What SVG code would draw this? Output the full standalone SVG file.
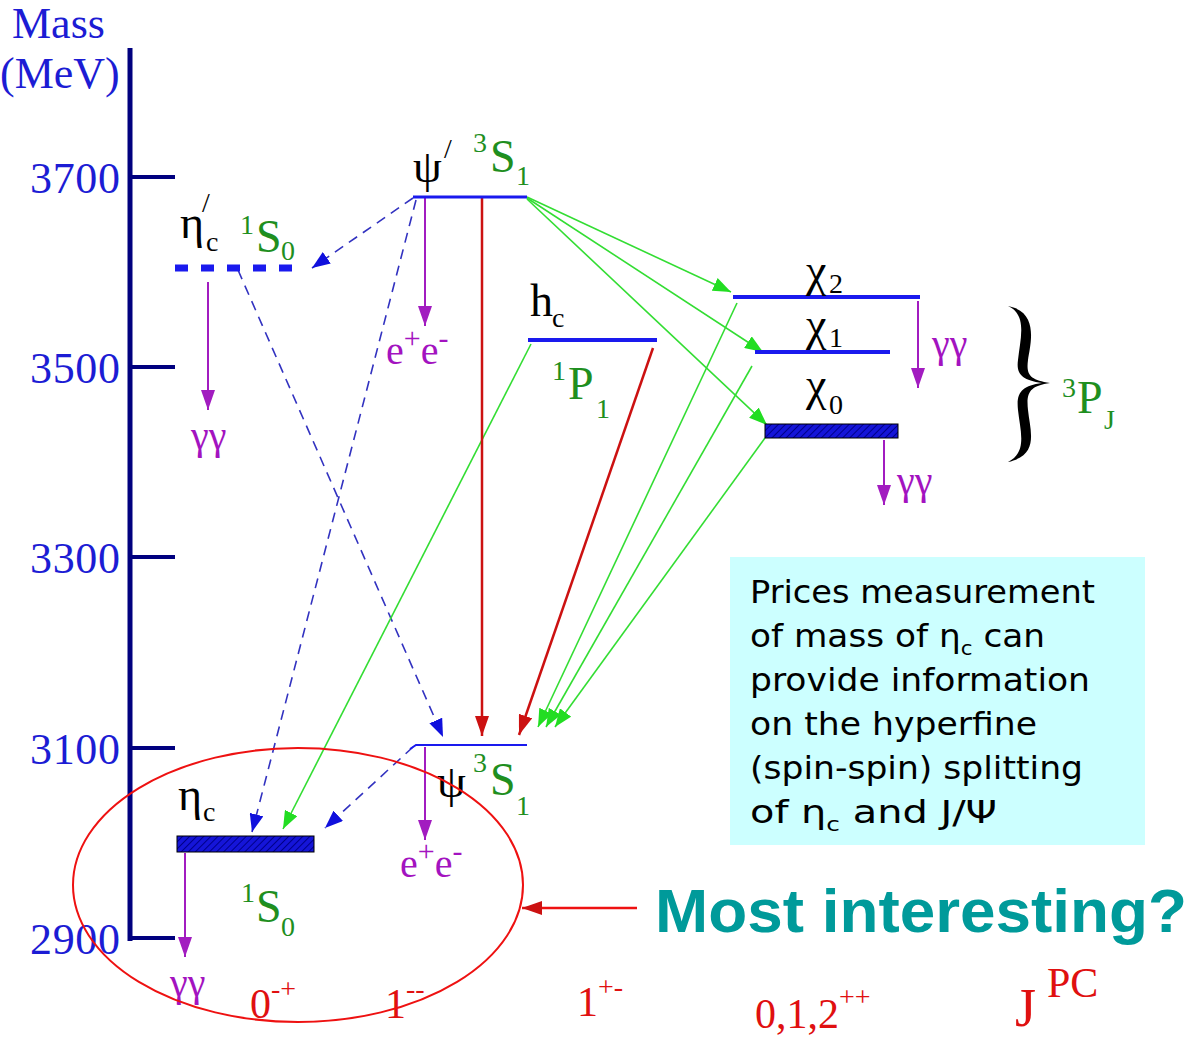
<svg xmlns="http://www.w3.org/2000/svg" width="1197" height="1037" viewBox="0 0 1197 1037">
<defs>
<style>
.ax{font-family:"Liberation Serif",serif;font-size:44px;fill:#1c1cd4}
.lbl{font-family:"Liberation Serif",serif;font-size:46px;fill:#000}
.grn{font-family:"Liberation Serif",serif;font-size:46px;fill:#1f8f1f}
.pur{font-family:"Liberation Serif",serif;font-size:40px;fill:#a313c0}
.jpc{font-family:"Liberation Serif",serif;font-size:42px;fill:#e01010}
.note{font-family:"DejaVu Sans",sans-serif;font-size:32px;fill:#000}
.s{font-size:28px}
.lvl{stroke:#1a1aee;stroke-width:4;fill:none}
.dash{stroke:#3232c0;stroke-width:1.6;stroke-dasharray:10 7;fill:none}
.g{stroke:#33dd33;stroke-width:1.6;fill:none}
.r{stroke:#cc1111;stroke-width:2.5;fill:none}
.p{stroke:#a21cc0;stroke-width:2;fill:none}
</style>
<pattern id="hatch" patternUnits="userSpaceOnUse" width="5" height="5" patternTransform="rotate(45)">
<rect width="5" height="5" fill="#1515d8"/>
<line x1="0" y1="0" x2="0" y2="5" stroke="#00008a" stroke-width="2"/>
</pattern>
<marker id="ab" markerUnits="userSpaceOnUse" markerWidth="20" markerHeight="14" refX="18" refY="7" orient="auto"><path d="M0,0 L18,7 L0,14 Z" fill="#1010dd"/></marker>
<marker id="ag" markerUnits="userSpaceOnUse" markerWidth="20" markerHeight="14" refX="18" refY="7" orient="auto"><path d="M0,0 L18,7 L0,14 Z" fill="#22dd22"/></marker>
<marker id="ar" markerUnits="userSpaceOnUse" markerWidth="22" markerHeight="14" refX="20" refY="7" orient="auto"><path d="M0,0 L20,7 L0,14 Z" fill="#cc1111"/></marker>
<marker id="ap" markerUnits="userSpaceOnUse" markerWidth="22" markerHeight="14" refX="20" refY="7" orient="auto"><path d="M0,0 L20,7 L0,14 Z" fill="#a21cc0"/></marker>
</defs>
<rect width="1197" height="1037" fill="#fff"/>

<g id="axis">
<line x1="130" y1="48" x2="130" y2="941" stroke="#00007f" stroke-width="5"/>
<g stroke="#00007f" stroke-width="4">
<line x1="130" y1="177" x2="175" y2="177"/>
<line x1="130" y1="367" x2="175" y2="367"/>
<line x1="130" y1="557" x2="175" y2="557"/>
<line x1="130" y1="748" x2="175" y2="748"/>
<line x1="130" y1="938" x2="175" y2="938"/>
</g>
<text class="ax" x="12" y="38">Mass</text>
<text class="ax" x="0" y="88">(MeV)</text>
<text class="ax" x="30" y="193" textLength="90">3700</text>
<text class="ax" x="30" y="383" textLength="90">3500</text>
<text class="ax" x="30" y="573" textLength="90">3300</text>
<text class="ax" x="30" y="764" textLength="90">3100</text>
<text class="ax" x="30" y="954" textLength="90">2900</text>
</g>

<g id="connectors">
<path class="dash" d="M413,198 L312,268" marker-end="url(#ab)"/>
<path class="dash" d="M416,200 L252,832" marker-end="url(#ab)"/>
<path class="dash" d="M238,270 L443,737" marker-end="url(#ab)"/>
<path class="dash" d="M413,747 L325,828" marker-end="url(#ab)"/>
<path class="g" d="M527,197 L731,292" marker-end="url(#ag)"/>
<path class="g" d="M527,198 L763,352" marker-end="url(#ag)"/>
<path class="g" d="M527,199 L767,425" marker-end="url(#ag)"/>
<path class="g" d="M531,344 L283,829" marker-end="url(#ag)"/>
<path class="g" d="M737,303 L538,727" marker-end="url(#ag)"/>
<path class="g" d="M752,366 L546,727" marker-end="url(#ag)"/>
<path class="g" d="M765,438 L555,727" marker-end="url(#ag)"/>
<path class="r" d="M482,198 L482,736" marker-end="url(#ar)"/>
<path class="r" d="M653,348 L519,735" marker-end="url(#ar)"/>
<path class="p" d="M208,282 L208,410" marker-end="url(#ap)"/>
<path class="p" d="M425,198 L425,326" marker-end="url(#ap)"/>
<path class="p" d="M918,301 L918,388" marker-end="url(#ap)"/>
<path class="p" d="M884,440 L884,505" marker-end="url(#ap)"/>
<path class="p" d="M425,747 L425,840" marker-end="url(#ap)"/>
<path class="p" d="M185,853 L185,957" marker-end="url(#ap)"/>
<path d="M637,908 L522,908" stroke="#ee1111" stroke-width="2.5" fill="none" marker-end="url(#ar)"/>
</g>

<g id="eta_c_prime">
<line x1="175" y1="268" x2="300" y2="268" stroke="#1a1aee" stroke-width="7" stroke-dasharray="13 13"/>
<text class="lbl" x="180" y="238">η</text>
<text class="lbl s" x="202" y="212">/</text>
<text class="lbl s" x="206" y="251">c</text>
<text class="grn s" x="240" y="234">1</text>
<text class="grn" x="256" y="252">S</text>
<text class="grn s" x="281" y="260">0</text>
<text class="pur" x="191" y="449">γγ</text>
</g>

<g id="psi_prime">
<line class="lvl" x1="413" y1="197" x2="527" y2="197" style="stroke-width:3"/>
<text class="lbl" x="413" y="182">ψ</text>
<text class="lbl s" x="444" y="158">/</text>
<text class="grn s" x="473" y="152">3</text>
<text class="grn" x="490" y="172">S</text>
<text class="grn s" x="516" y="185">1</text>
<text class="pur" x="386" y="364">e<tspan dy="-16" font-size="30">+</tspan><tspan dy="16">e</tspan><tspan dy="-16" font-size="30">-</tspan></text>
</g>

<g id="h_c">
<line class="lvl" x1="528" y1="340" x2="657" y2="340"/>
<text class="lbl" x="530" y="316">h</text>
<text class="lbl s" x="552" y="327">c</text>
<text class="grn s" x="552" y="380">1</text>
<text class="grn" x="568" y="399">P</text>
<text class="grn s" x="596" y="418">1</text>
</g>

<g id="chi_2">
<line class="lvl" x1="733" y1="297" x2="920" y2="297"/>
<text class="lbl" x="806" y="286">χ</text>
<text class="lbl s" x="829" y="293">2</text>
<text class="pur" x="932" y="357">γγ</text>
</g>

<g id="chi_1">
<line class="lvl" x1="755" y1="352" x2="890" y2="352"/>
<text class="lbl" x="806" y="340">χ</text>
<text class="lbl s" x="829" y="347">1</text>
</g>

<g id="chi_0">
<rect x="765" y="424" width="133" height="14" fill="url(#hatch)" stroke="#000" stroke-width="1"/>
<text class="lbl" x="806" y="400">χ</text>
<text class="lbl s" x="829" y="414">0</text>
<text class="pur" x="897" y="494">γγ</text>
</g>

<g id="brace_3PJ">
<path d="M1008,306 C1040,312 1030,345 1028,360 C1026,375 1030,380 1050,383 C1030,386 1026,392 1028,410 C1030,430 1040,455 1008,462 C1028,452 1020,430 1018,410 C1016,392 1022,386 1042,383 C1022,380 1016,374 1018,360 C1020,340 1028,315 1008,306 Z" fill="#000"/>
<text class="grn s" x="1062" y="397">3</text>
<text class="grn" x="1077" y="413">P</text>
<text class="grn s" x="1104" y="429">J</text>
</g>

<g id="jpsi">
<path class="lvl" d="M410,749 L416,745 L527,745" style="stroke-width:2"/>
<text class="lbl" x="437" y="797">ψ</text>
<text class="grn s" x="473" y="772">3</text>
<text class="grn" x="490" y="795">S</text>
<text class="grn s" x="516" y="815">1</text>
<text class="pur" x="400" y="877">e<tspan dy="-16" font-size="30">+</tspan><tspan dy="16">e</tspan><tspan dy="-16" font-size="30">-</tspan></text>
</g>

<g id="eta_c">
<rect x="177" y="836" width="137" height="16" fill="url(#hatch)" stroke="#000" stroke-width="1"/>
<text class="lbl" x="178" y="810">η</text>
<text class="lbl s" x="203" y="821">c</text>
<text class="grn s" x="241" y="902">1</text>
<text class="grn" x="256" y="922">S</text>
<text class="grn s" x="281" y="936">0</text>
<text class="pur" x="170" y="996">γγ</text>
</g>

<g id="jpc_labels">
<text class="jpc" x="250" y="1018">0<tspan dy="-20" font-size="28">-+</tspan></text>
<text class="jpc" x="385" y="1018">1<tspan dy="-20" font-size="28">--</tspan></text>
<text class="jpc" x="577" y="1016">1<tspan dy="-20" font-size="28">+-</tspan></text>
<text class="jpc" x="755" y="1028">0,1,2<tspan dy="-22" font-size="28">++</tspan></text>
<text class="jpc" x="1015" y="1026" style="font-size:54px">J</text>
<text class="jpc" x="1047" y="997" style="font-size:42px">PC</text>
</g>

<g id="note">
<rect x="730" y="557" width="415" height="288" fill="#ccffff"/>
<text class="note" x="750" y="603" textLength="345" lengthAdjust="spacingAndGlyphs">Prices measurement</text>
<text class="note" x="750" y="647" textLength="295" lengthAdjust="spacingAndGlyphs">of mass of η<tspan dy="8" font-size="20">c</tspan><tspan dy="-8"> can</tspan></text>
<text class="note" x="750" y="691" textLength="340" lengthAdjust="spacingAndGlyphs">provide information</text>
<text class="note" x="750" y="735" textLength="287" lengthAdjust="spacingAndGlyphs">on the hyperfine</text>
<text class="note" x="750" y="779" textLength="333" lengthAdjust="spacingAndGlyphs">(spin-spin) splitting</text>
<text class="note" x="750" y="823" textLength="247" lengthAdjust="spacingAndGlyphs">of η<tspan dy="8" font-size="20">c</tspan><tspan dy="-8">  and J/Ψ</tspan></text>
</g>

<g id="highlight">
<ellipse cx="298" cy="885" rx="225" ry="137" fill="none" stroke="#ee1111" stroke-width="2"/>
<text x="655" y="932" font-family="Liberation Sans, sans-serif" font-weight="bold" font-size="62" fill="#009a9a" textLength="532" lengthAdjust="spacingAndGlyphs">Most interesting?</text>
</g>
</svg>
